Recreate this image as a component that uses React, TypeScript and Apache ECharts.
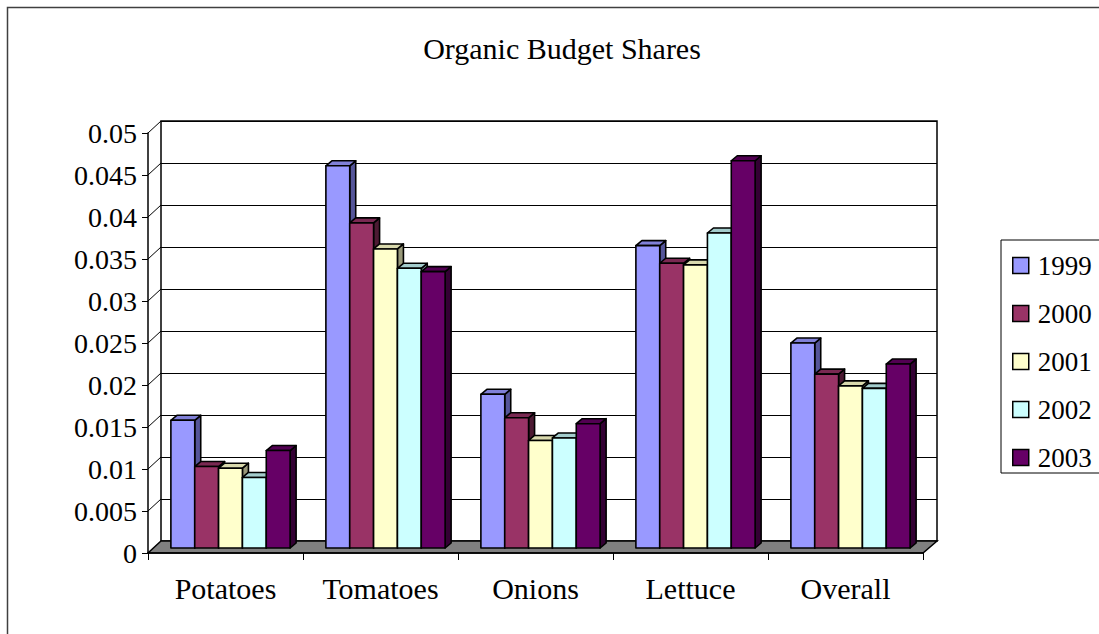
import React, { useEffect, useRef } from "react";
import * as echarts from "echarts";

const categories = ["Potatoes", "Tomatoes", "Onions", "Lettuce", "Overall"];
const years = ["1999", "2000", "2001", "2002", "2003"];
const s1999 = [0.0152, 0.0455, 0.0183, 0.036, 0.0244];
const s2000 = [0.0097, 0.0387, 0.0155, 0.0339, 0.0207];
const s2001 = [0.0095, 0.0356, 0.0128, 0.0337, 0.0193];
const s2002 = [0.0084, 0.0333, 0.0131, 0.0375, 0.019];
const s2003 = [0.0116, 0.0329, 0.0148, 0.0461, 0.0219];
const seriesValues = [s1999, s2000, s2001, s2002, s2003];
const yTicks = [0.005, 0.01, 0.015, 0.02, 0.025, 0.03, 0.035, 0.04, 0.045, 0.05];

const frontColors = ["#9999FF", "#993366", "#FFFFCC", "#CCFFFF", "#660066"];
const topColors = ["#8080D8", "#7A2952", "#D9D9AD", "#A3CCCC", "#520052"];
const sideColors = ["#555599", "#4D1A33", "#99997A", "#7A9999", "#330033"];

const FONT = "Liberation Serif";

// layout (pixels)
const FRONT = { left: 148, top: 133, width: 775, height: 420 };
const BACK = { left: 161, top: 121, width: 776, height: 420 };
const BARS = { left: 153, top: 128, width: 775, height: 420 };
const YMAX = 0.05;

export default function App() {
  const ref = useRef<HTMLDivElement>(null);
  useEffect(() => {
    if (!ref.current) return;
    const chart = echarts.init(ref.current, null, { renderer: "svg" });
    const pxPerUnit = FRONT.height / YMAX;
    const frontBottom = FRONT.top + FRONT.height;
    const backBottom = BACK.top + BACK.height;

    const wallLines = yTicks.map((v) => ({
      type: "line",
      z: 1,
      shape: {
        x1: FRONT.left,
        y1: frontBottom - v * pxPerUnit,
        x2: BACK.left,
        y2: backBottom - v * pxPerUnit,
      },
      style: { stroke: "#000", lineWidth: 1 },
    }));

    const series = seriesValues.map((vals, s) => ({
      type: "custom",
      name: years[s],
      xAxisIndex: 1,
      yAxisIndex: 1,
      clip: false,
      z: 3,
      itemStyle: { color: frontColors[s], borderColor: "#000", borderWidth: 1.5 },
      encode: { x: 0, y: 1 },
      data: categories.map((c, i) => [i, vals[i]]),
      renderItem: (params: any, api: any) => {
        const ci = api.value(0);
        const v = api.value(1);
        const base = api.coord([ci, 0]);
        const top = api.coord([ci, v]);
        const bandW = api.size([1, 0])[0];
        const w = bandW / 6.5;
        const x0 = base[0] - 2.5 * w + s * w;
        const y0 = top[1];
        const yb = base[1];
        const dx = 6;
        const dy = 5;
        const stroke = { stroke: "#000", lineWidth: 1.6, lineJoin: "round" };
        return {
          type: "group",
          children: [
            {
              type: "polygon",
              shape: {
                points: [
                  [x0 + w, y0],
                  [x0 + w + dx, y0 - dy],
                  [x0 + w + dx, yb - dy],
                  [x0 + w, yb],
                ],
              },
              style: { fill: sideColors[s], ...stroke },
            },
            {
              type: "polygon",
              shape: {
                points: [
                  [x0, y0],
                  [x0 + dx, y0 - dy],
                  [x0 + w + dx, y0 - dy],
                  [x0 + w, y0],
                ],
              },
              style: { fill: topColors[s], ...stroke },
            },
            {
              type: "rect",
              shape: { x: x0, y: y0, width: w, height: yb - y0 },
              style: { fill: frontColors[s], ...stroke },
            },
          ],
        };
      },
    }));

    chart.setOption({
      animation: false,
      textStyle: { fontFamily: FONT },
      title: {
        text: "Organic Budget Shares",
        left: 557,
        top: 28,
        textAlign: "center",
        textStyle: { fontFamily: FONT, fontSize: 30, fontWeight: "normal", color: "#000" },
      },
      legend: {
        data: years,
        orient: "vertical",
        left: 1001,
        top: 240,
        padding: [12, 14, 2, 11],
        itemGap: 21,
        itemWidth: 16,
        itemHeight: 16,
        icon: "rect",
        borderColor: "#000",
        borderWidth: 1,
        backgroundColor: "#fff",
        itemStyle: { borderColor: "#000", borderWidth: 1.5 },
        textStyle: { fontFamily: FONT, fontSize: 27, color: "#000", padding: [0, 0, 0, 4] },
      },
      grid: [
        { ...BACK, show: true, borderColor: "#000", borderWidth: 1.5, backgroundColor: "#fff", z: 0 },
        { ...BARS, show: false },
        { ...FRONT, show: false },
      ],
      xAxis: [
        { type: "category", gridIndex: 0, data: categories, show: false },
        { type: "category", gridIndex: 1, data: categories, show: false },
        {
          type: "category",
          gridIndex: 2,
          data: categories,
          axisLine: { show: true, lineStyle: { color: "#000", width: 1.5 } },
          axisTick: { show: true, length: 7, lineStyle: { color: "#000" } },
          axisLabel: { fontFamily: FONT, fontSize: 30, color: "#000", margin: 20 },
          splitLine: { show: false },
          z: 4,
        },
      ],
      yAxis: [
        {
          type: "value",
          gridIndex: 0,
          min: 0,
          max: YMAX,
          interval: 0.005,
          axisLine: { show: false },
          axisTick: { show: false },
          axisLabel: { show: false },
          splitLine: { show: true, lineStyle: { color: "#000", width: 1 } },
        },
        { type: "value", gridIndex: 1, min: 0, max: YMAX, interval: 0.005, show: false, splitLine: { show: false } },
        {
          type: "value",
          gridIndex: 2,
          min: 0,
          max: YMAX,
          interval: 0.005,
          axisLine: { show: true, lineStyle: { color: "#000", width: 1.5 } },
          axisTick: { show: true, length: 6, lineStyle: { color: "#000" } },
          axisLabel: { fontFamily: FONT, fontSize: 28, color: "#000", margin: 11 },
          splitLine: { show: false },
          z: 4,
        },
      ],
      graphic: [
        {
          type: "rect",
          z: 0,
          shape: { x: 7.5, y: 7.5, width: 1300, height: 800 },
          style: { fill: "none", stroke: "#404040", lineWidth: 1.5 },
        },
        {
          type: "polygon",
          z: 1,
          shape: {
            points: [
              [FRONT.left, frontBottom],
              [FRONT.left + FRONT.width, frontBottom],
              [BACK.left + BACK.width, backBottom],
              [BACK.left, backBottom],
            ],
          },
          style: { fill: "#808080", stroke: "#000", lineWidth: 1.5 },
        },
        ...wallLines,
      ],
      series,
    });
    return () => chart.dispose();
  }, []);
  return (
    <div
      ref={ref}
      style={{ position: "absolute", left: 0, top: 0, width: 1099, height: 634 }}
    />
  );
}
